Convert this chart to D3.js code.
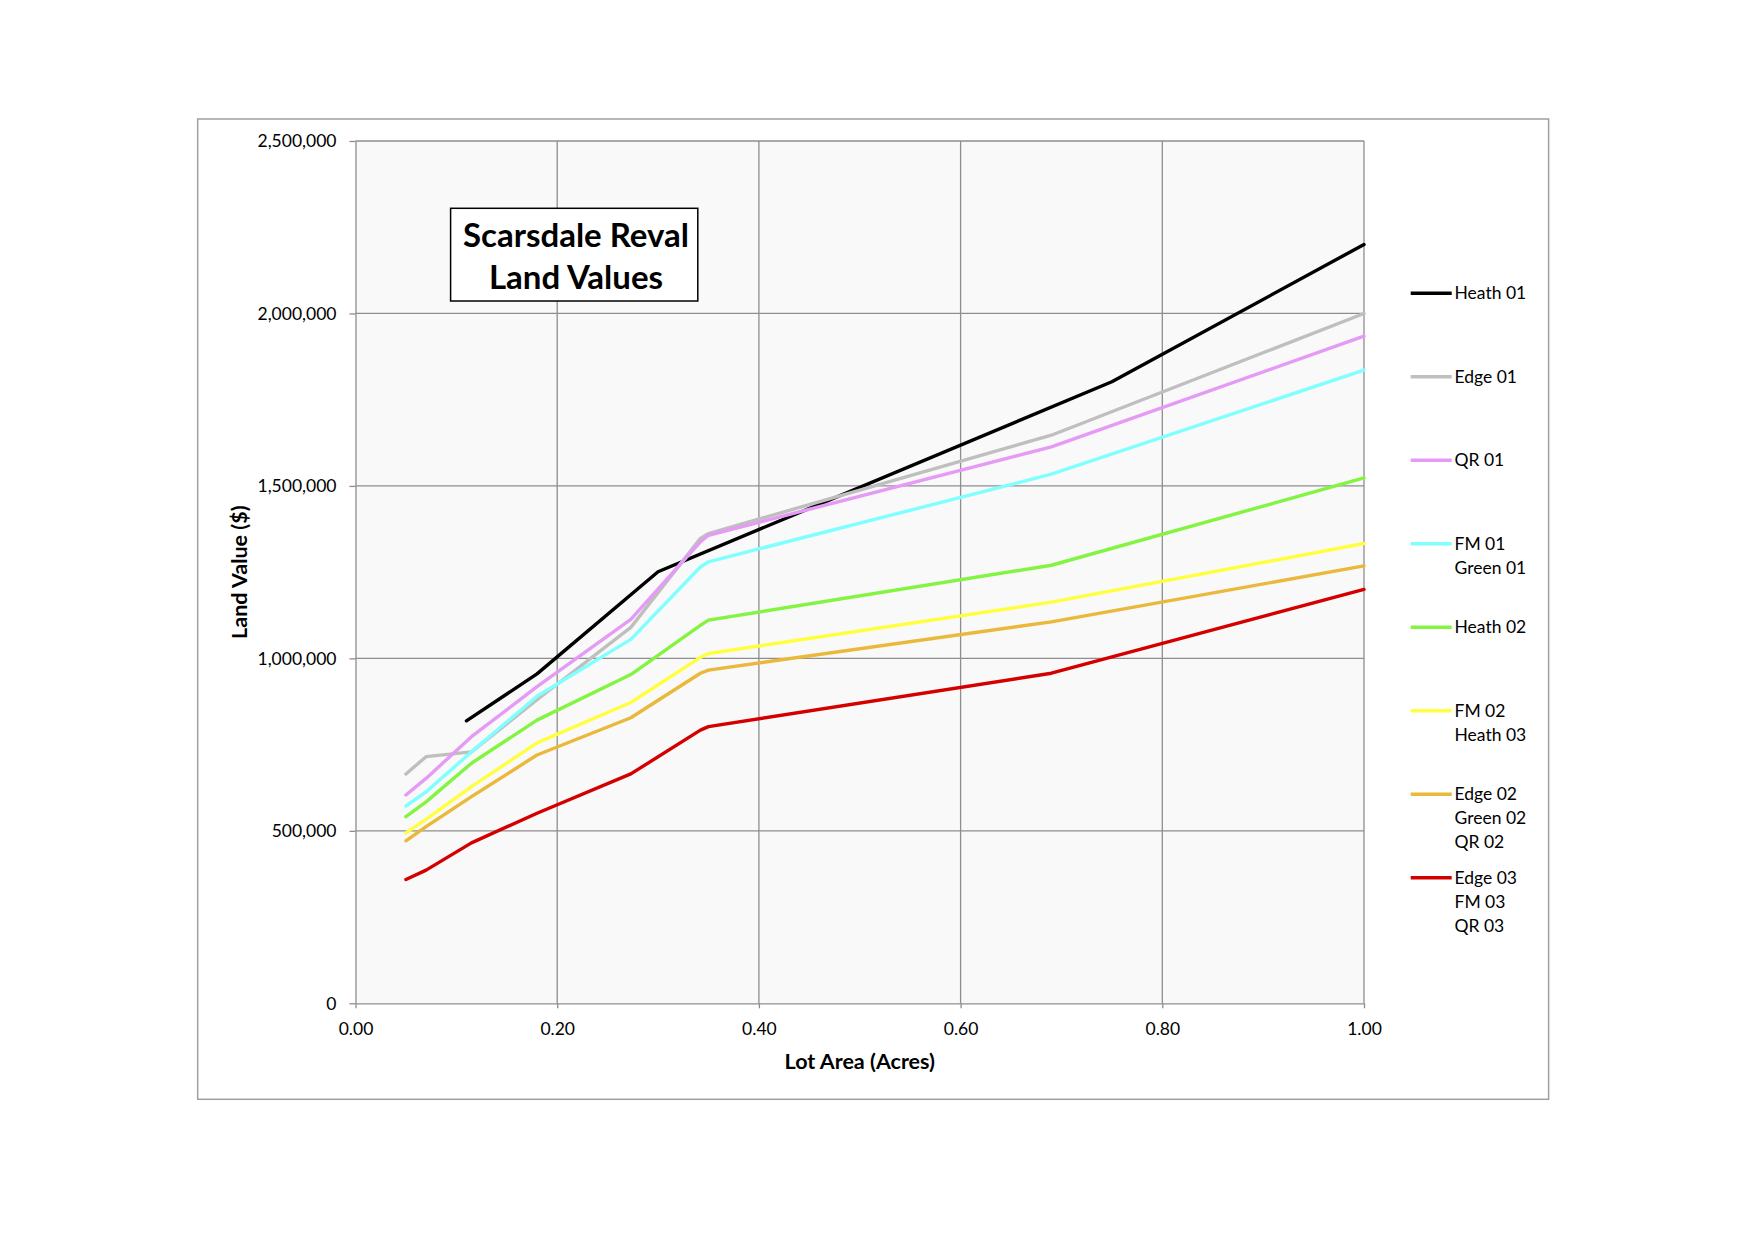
<!DOCTYPE html>
<html><head><meta charset="utf-8">
<script src="https://cdn.jsdelivr.net/npm/d3@7"></script>
<style>
body{margin:0;background:#fff}
svg{display:block}
text{font-family:Lato,"Open Sans",sans-serif;fill:#000}
</style>
</head><body>
<svg id="chart" width="1754" height="1239"></svg>
<script>
// ---- data ----
const lotArea = [0.05, 0.07, 0.115, 0.18, 0.273, 0.342, 0.35, 0.69, 1.00];
const edge01  = [665000, 715000, 729000, 880000, 1090000, 1348000, 1362000, 1647000, 2000000];
const qr01    = [604000, 652000, 773000, 918000, 1113000, 1338000, 1357000, 1613000, 1934000];
const fm01    = [572000, 613000, 729000, 890000, 1055000, 1265000, 1280000, 1534000, 1836000];
const heath02 = [541000, 584000, 696000, 821000, 953000, 1096000, 1111000, 1270000, 1523000];
const fm02    = [494000, 533000, 628000, 755000, 872000, 1003000, 1014000, 1163000, 1333000];
const edge02  = [471000, 512000, 599000, 720000, 828000, 957000, 966000, 1106000, 1268000];
const edge03  = [359000, 386000, 465000, 551000, 665000, 792000, 802000, 957000, 1200000];
const heath01Area = [0.11, 0.18, 0.30, 0.75, 1.00];
const heath01     = [819000, 955000, 1251000, 1802000, 2200000];

const legendLabels = [["Heath 01"], ["Edge 01"], ["QR 01"], ["FM 01", "Green 01"], ["Heath 02"],
                      ["FM 02", "Heath 03"], ["Edge 02", "Green 02", "QR 02"], ["Edge 03", "FM 03", "QR 03"]];
const seriesColors = ["#000000", "#bfbfbf", "#e59af5", "#80ffff", "#84f442", "#ffff40", "#eab83a", "#d40000"];
const yTicks = [0, 500000, 1000000, 1500000, 2000000, 2500000];
const xTicks = [0, 0.2, 0.4, 0.6, 0.8, 1.0];
const titleLines = ["Scarsdale Reval", "Land Values"];

// ---- build ----
const series = [
  {xs: heath01Area, ys: heath01},
  {xs: lotArea, ys: edge01},
  {xs: lotArea, ys: qr01},
  {xs: lotArea, ys: fm01},
  {xs: lotArea, ys: heath02},
  {xs: lotArea, ys: fm02},
  {xs: lotArea, ys: edge02},
  {xs: lotArea, ys: edge03}
].map((s, i) => ({pts: s.xs.map((x, j) => [x, s.ys[j]]), color: seriesColors[i], labels: legendLabels[i]}));

const svg = d3.select("#chart");
const L = 355.5, R = 1364, T = 141, B = 1003.3;
const x = d3.scaleLinear().domain([0, 1]).range([L, R]);
const y = d3.scaleLinear().domain([0, 2500000]).range([B, T]);
const gridColor = "#8e8e8e";

// outer frame
svg.append("rect").attr("x", 197.7).attr("y", 119).attr("width", 1350.9).attr("height", 980.3)
  .attr("fill", "#fff").attr("stroke", "#a0a0a0").attr("stroke-width", 1.5);

// plot background
svg.append("rect").attr("x", L).attr("y", T).attr("width", R - L).attr("height", B - T).attr("fill", "#f9f9f9");

// grid
svg.append("g").selectAll("line").data(yTicks.filter(d => d > 0)).join("line")
  .attr("x1", L).attr("x2", R).attr("y1", d => y(d)).attr("y2", d => y(d))
  .attr("stroke", gridColor).attr("stroke-width", 1.3);
svg.append("g").selectAll("line").data(xTicks.filter(d => d > 0)).join("line")
  .attr("y1", T).attr("y2", B).attr("x1", d => x(d)).attr("x2", d => x(d))
  .attr("stroke", gridColor).attr("stroke-width", 1.3);

// axes
const yAxis = svg.append("g").attr("transform", `translate(${L},0)`)
  .call(d3.axisLeft(y).tickValues(yTicks).tickFormat(d3.format(",")).tickSize(6).tickSizeOuter(0).tickPadding(13));
const xAxis = svg.append("g").attr("transform", `translate(0,${B})`)
  .call(d3.axisBottom(x).tickValues(xTicks).tickFormat(d3.format(".2f")).tickSize(5).tickSizeOuter(0).tickPadding(14));
[yAxis, xAxis].forEach(g => {
  g.select(".domain").attr("stroke", gridColor).attr("stroke-width", 1.3);
  g.selectAll(".tick line").attr("stroke", gridColor).attr("stroke-width", 1.3);
  g.selectAll(".tick text").attr("font-family", "Lato").attr("font-size", 17.5).attr("fill", "#000");
});
yAxis.selectAll(".tick text").attr("dy", "0.34em");

// lines
const line = d3.line().x(d => x(d[0])).y(d => y(d[1]));
svg.append("g").selectAll("path").data(series).join("path")
  .attr("d", d => line(d.pts)).attr("fill", "none").attr("stroke", d => d.color)
  .attr("stroke-width", 3.4).attr("stroke-linejoin", "round").attr("stroke-linecap", "round");

// axis titles
svg.append("text").attr("x", (L + R) / 2).attr("y", 1068.8).attr("text-anchor", "middle")
  .attr("font-size", 21.5).attr("font-weight", "bold").text("Lot Area (Acres)");
svg.append("text").attr("transform", `translate(246.5,${(T + B) / 2}) rotate(-90)`).attr("text-anchor", "middle")
  .attr("font-size", 21.5).attr("font-weight", "bold").text("Land Value ($)");

// title box
svg.append("rect").attr("x", 450.6).attr("y", 208.3).attr("width", 247.2).attr("height", 92.7)
  .attr("fill", "#fff").attr("stroke", "#000").attr("stroke-width", 1.5);
svg.append("g").selectAll("text").data(titleLines).join("text")
  .attr("x", 576).attr("y", (d, i) => 246.5 + i * 42.3).attr("text-anchor", "middle")
  .attr("font-size", 33).attr("font-weight", "bold").text(d => d);

// legend
const leg = svg.append("g").selectAll("g").data(series).join("g")
  .attr("transform", (d, i) => `translate(0,${293.3 + i * 83.5})`);
leg.append("line").attr("x1", 1410.7).attr("x2", 1451.7).attr("y1", 0).attr("y2", 0)
  .attr("stroke", d => d.color).attr("stroke-width", 3.5);
leg.each(function(d) {
  d3.select(this).selectAll("text").data(d.labels).join("text")
    .attr("x", 1454.5).attr("y", (t, j) => 6 + j * 24).attr("font-size", 17.5).text(t => t);
});
</script>
</body></html>
